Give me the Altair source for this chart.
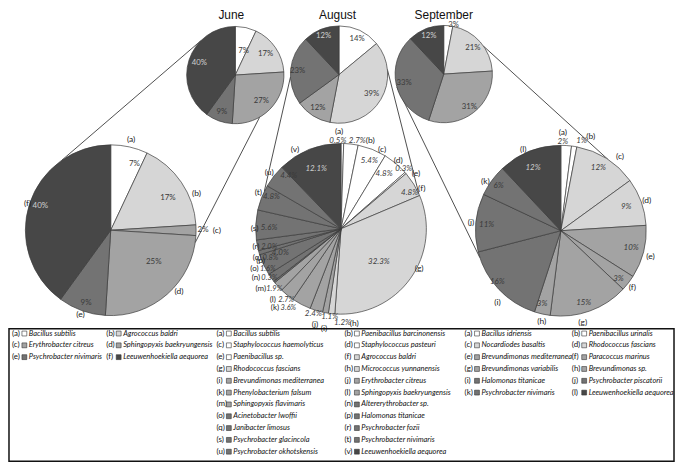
import math
import altair as alt
import pandas as pd

# ------------------------------------------------------------------ data
months = ["June", "August", "September"]

small_groups = ["white", "light", "medium", "darker", "dark"]
june_small = [7, 17, 27, 9, 40]
aug_small = [14, 39, 12, 23, 12]
sep_small = [3, 21, 31, 33, 12]

june_letters = list("abcdef")
june_values = [7, 17, 2, 25, 9, 40]
june_groups = ["white", "light", "medium", "medium", "darker", "dark"]
june_names = ["Bacillus subtilis", "Agrococcus baldri", "Erythrobacter citreus",
              "Sphingopyxis baekryungensis", "Psychrobacter nivimaris",
              "Leeuwenhoekiella aequorea"]

aug_letters = list("abcdefghijklmnopqrstuv")
aug_values = [0.5, 2.7, 5.4, 4.8, 0.3, 4.8, 32.3, 1.2, 1.1, 2.4, 3.6, 2.7, 1.9,
              0.3, 1.6, 4.0, 0.8, 2.0, 5.6, 4.8, 4.4, 12.1]
aug_groups = ["white"] * 5 + ["light"] * 3 + ["medium"] * 5 + ["darker"] * 8 + ["dark"]
aug_names = ["Bacillus subtilis", "Paenibacillus barcinonensis",
             "Staphylococcus haemolyticus", "Staphylococcus pasteuri",
             "Paenibacillus sp.", "Agrococcus baldri", "Rhodococcus fascians",
             "Micrococcus yunnanensis", "Brevundimonas mediterranea",
             "Erythrobacter citreus", "Phenylobacterium falsum",
             "Sphingopyxis baekryungensis", "Sphingopyxis flavimaris",
             "Altererythrobacter sp.", "Acinetobacter lwoffii",
             "Halomonas titanicae", "Janibacter limosus", "Psychrobacter fozii",
             "Psychrobacter glacincola", "Psychrobacter nivimaris",
             "Psychrobacter okhotskensis", "Leeuwenhoekiella aequorea"]

sep_letters = list("abcdefghijkl")
sep_values = [2, 1, 12, 9, 10, 3, 15, 3, 16, 11, 6, 12]
sep_groups = ["white"] * 2 + ["light"] * 2 + ["medium"] * 4 + ["darker"] * 3 + ["dark"]
sep_names = ["Bacillus idriensis", "Paenibacillus urinalis", "Nocardiodes basaltis",
             "Rhodococcus fascians", "Brevundimonas mediterranea",
             "Paracoccus marinus", "Brevundimonas variabilis", "Brevundimonas sp.",
             "Halomonas titanicae", "Psychrobacter piscatorii",
             "Psychrobacter nivimaris", "Leeuwenhoekiella aequorea"]

# ------------------------------------------------------------------ style / layout
FILL = {"white": "#ffffff", "light": "#d6d6d6", "medium": "#a3a3a3",
        "darker": "#737373", "dark": "#474747"}
EDGE = "#3c3c3c"
FONT = "Lato"
W, H = 672, 456
KY = 454 / 469


def px(x):
    return x - 8


def py(y):
    return 1 + (y - 1) * KY


SMALL_C = {"June": (237, 68), "August": (341.5, 67.5), "September": (447, 67)}
SMALL_R = 49
BIG_C = {"June": (111.5, 229.5), "August": (343.5, 228), "September": (565, 230)}
BIG_R = 86

SMALL_LAB = {"June": ([26, 37, 37, 40, 38], [6, 0, 0, 0, 0]),
             "August": ([40, 38, 40, 42, 42], [2, 0, 0, 0, 0]),
             "September": ([50.5, 39, 42, 41, 41], [6, 0, 0, 0, 0])}

JUNE_LET = {"a": (0, 94), "b": (11, 94), "c": (0, 107), "d": (-7, 92), "e": (0, 90), "f": (0, 88)}
JUNE_PCT = {"a": (7, 71), "b": (5, 66), "c": (0, 93), "d": (-12, 54), "e": (-1, 77), "f": (1, 75)}

AUG_LET = {"a": (-2, 98.5), "b": (11.6, 94), "c": (6, 90), "d": (0, 90), "e": (4.5, 94),
           "f": (5, 91), "g": (-9, 88), "h": (-14.3, 96), "i": (-0.8, 101),
           "j": (-1.5, 99), "p": (3.5, 87), "s": (-1.9, 87), "t": (2.4, 91),
           "u": (0, 92), "v": (-8, 93)}
AUG_PCT = {"a": (-3, 88.5), "b": (3.8, 90), "c": (1.3, 74), "d": (-1.6, 70), "e": (-2.5, 87),
           "f": (4, 78), "g": (6, 51), "h": (-7.2, 95), "i": (-3.2, 90), "j": (1.2, 90),
           "p": (2.8, 66), "s": (-1.8, 72.5), "t": (3.1, 77), "u": (7, 74.6),
           "v": (-0.7, 65)}
AUG_JOIN = {"k": (8.5, 99), "l": (1.1, 94), "m": (2.5, 95), "n": (6.2, 92),
            "o": (8.0, 89), "q": (-4.5, 82), "r": (-2.3, 80)}

SEP_LET = {"a": (-2.4, 99.5), "b": (8.5, 100), "c": (6, 96), "d": (0, 92), "e": (1.6, 94),
           "f": (0.6, 92), "g": (6.4, 95), "h": (-0.7, 93), "i": (-5.2, 96),
           "j": (0.4, 91), "k": (-2.8, 91), "l": (-3, 91)}
SEP_PCT = {"a": (-2.3, 89.5), "b": (4, 93), "c": (-1.7, 74), "d": (0, 70), "e": (-0.2, 73),
           "f": (2.4, 76), "g": (2.3, 76.5), "h": (1.8, 76), "i": (4.1, 82.5),
           "j": (-0.8, 75), "k": (-0.5, 77), "l": (-2.4, 69)}

# connector lines: (month, angle on small pie, angle on big pie)
LINES = [("June", 315, 325), ("June", 150, 98.3), ("August", 267, 296),
         ("August", 84, 65.7), ("September", 254.5, 251.6), ("September", 55, 33.7)]

LEG_COL_X = [12, 107, 218, 347, 468, 576]
LEG_ROW0, LEG_STEP = 337, 12.3
LEG_BOX = (9, 332, 679, 470)


# ------------------------------------------------------------------ helpers
def pie_frame(values, groups):
    df = pd.DataFrame({"value": values, "group": groups})
    df["idx"] = range(len(df))
    df["fill"] = df["group"].map(FILL)
    total = float(df["value"].sum())
    cum = df["value"].cumsum()
    df["mid"] = (cum - df["value"] / 2) / total * 360
    return df, total


def pie_layer(df, total, c, r):
    return alt.Chart(df).mark_arc(outerRadius=r, stroke=EDGE, strokeWidth=0.7).encode(
        theta=alt.Theta("value:Q", stack=True, scale=alt.Scale(domain=[0, total])),
        order=alt.Order("idx:Q"),
        color=alt.Color("fill:N", scale=None),
        x=alt.value(px(c[0])), y=alt.value(py(c[1])),
    )


def text_layer(rows, c, size, style="normal", dx=0, weight="normal"):
    df = pd.DataFrame(rows)
    return alt.Chart(df).mark_text(
        font=FONT, fontSize=size, fontStyle=style, fontWeight=weight,
        baseline="middle", align="center", dx=dx,
    ).encode(
        theta=alt.Theta("ang:Q", stack=False, scale=alt.Scale(domain=[0, 360])),
        radius=alt.Radius("rad:Q", scale=None),
        text="txt:N",
        color=alt.Color("tcol:N", scale=None),
        x=alt.value(px(c[0])), y=alt.value(py(c[1])),
    )


def pct_color(g):
    return "#cfcfcf" if g == "dark" else "#3a3a3a"


layers = []

# titles
title_df = pd.DataFrame({"txt": months,
                         "x": [px(233), px(340), px(447)],
                         "y": [5.5] * 3})
layers.append(alt.Chart(title_df).mark_text(
    font="Liberation Sans", fontSize=12, color="#111111", baseline="middle").encode(
    x=alt.X("x:Q", scale=None, axis=None), y=alt.Y("y:Q", scale=None, axis=None),
    text="txt:N"))

# connector lines
line_rows = []
for m, a1, a2 in LINES:
    (sx, sy), (bx, by) = SMALL_C[m], BIG_C[m]
    t1, t2 = math.radians(a1), math.radians(a2)
    line_rows.append({
        "x": px(sx) + SMALL_R * math.sin(t1), "y": py(sy) - SMALL_R * math.cos(t1),
        "x2": px(bx) + BIG_R * math.sin(t2), "y2": py(by) - BIG_R * math.cos(t2)})
layers.append(alt.Chart(pd.DataFrame(line_rows)).mark_rule(
    color="#222222", strokeWidth=0.8).encode(
    x=alt.X("x:Q", scale=None, axis=None), y=alt.Y("y:Q", scale=None, axis=None),
    x2="x2:Q", y2="y2:Q"))

# small pies
for m, vals in zip(months, [june_small, aug_small, sep_small]):
    df, total = pie_frame(vals, small_groups)
    layers.append(pie_layer(df, total, SMALL_C[m], SMALL_R))
    radii, nudges = SMALL_LAB[m]
    rows = []
    for i, row in df.iterrows():
        rows.append({"ang": row["mid"] + nudges[i], "rad": radii[i],
                     "txt": f"{vals[i]:g}%", "tcol": pct_color(small_groups[i])})
    layers.append(text_layer(rows, SMALL_C[m], 7.8))

# big pies
big_specs = [
    ("June", june_values, june_groups, june_letters, JUNE_LET, JUNE_PCT, {}, "normal",
     lambda v: f"{v:g}%"),
    ("August", aug_values, aug_groups, aug_letters, AUG_LET, AUG_PCT, AUG_JOIN, "italic",
     lambda v: f"{v:.1f}%"),
    ("September", sep_values, sep_groups, sep_letters, SEP_LET, SEP_PCT, {}, "italic",
     lambda v: f"{v:g}%"),
]
for m, vals, groups, letters, let_pos, pct_pos, join_pos, pstyle, fmt in big_specs:
    df, total = pie_frame(vals, groups)
    c = BIG_C[m]
    layers.append(pie_layer(df, total, c, BIG_R))
    let_rows, pct_rows, jl_rows, jp_rows = [], [], [], []
    for i, row in df.iterrows():
        l = letters[i]
        mid = row["mid"]
        if l in join_pos:
            n, r = join_pos[l]
            jl_rows.append({"ang": mid + n, "rad": r, "txt": f"({l})", "tcol": "#222222"})
            jp_rows.append({"ang": mid + n, "rad": r, "txt": fmt(vals[i]), "tcol": "#3a3a3a"})
        else:
            n, r = let_pos[l]
            let_rows.append({"ang": mid + n, "rad": r, "txt": f"({l})", "tcol": "#222222"})
            n, r = pct_pos[l]
            pct_rows.append({"ang": mid + n, "rad": r, "txt": fmt(vals[i]),
                             "tcol": pct_color(groups[i])})
    layers.append(text_layer(let_rows, c, 8.5))
    layers.append(text_layer(pct_rows, c, 8, style=pstyle))
    if jl_rows:
        layers.append(text_layer(jl_rows, c, 8, dx=-8))
        layers.append(text_layer(jp_rows, c, 7.5, style=pstyle, dx=5.5))

# legend
leg = []
for mi, (letters, names, groups) in enumerate([(june_letters, june_names, june_groups),
                                               (aug_letters, aug_names, aug_groups),
                                               (sep_letters, sep_names, sep_groups)]):
    for i, (l, nme, g) in enumerate(zip(letters, names, groups)):
        col = 2 * mi + (i % 2)
        x0 = LEG_COL_X[col]
        y0 = py(LEG_ROW0 + LEG_STEP * (i // 2))
        leg.append({"lx": px(x0), "sx": px(x0 + 12.5), "nx": px(x0 + 17), "y": y0,
                    "letter": f"({l})", "name": nme, "fill": FILL[g]})
leg_df = pd.DataFrame(leg)
box_df = pd.DataFrame({"x": [px(LEG_BOX[0])], "y": [py(LEG_BOX[1])],
                       "x2": [px(LEG_BOX[2])], "y2": [py(LEG_BOX[3])]})
layers.append(alt.Chart(box_df).mark_rect(
    fillOpacity=0, stroke="#111111", strokeWidth=1.5).encode(
    x=alt.X("x:Q", scale=None, axis=None), y=alt.Y("y:Q", scale=None, axis=None),
    x2="x2:Q", y2="y2:Q"))
layers.append(alt.Chart(leg_df).mark_text(
    font=FONT, fontSize=8, align="left", baseline="middle", color="#111111").encode(
    x=alt.X("lx:Q", scale=None, axis=None), y=alt.Y("y:Q", scale=None, axis=None),
    text="letter:N"))
layers.append(alt.Chart(leg_df).mark_square(
    size=24, stroke="#333333", strokeWidth=0.6, opacity=1, filled=True).encode(
    x=alt.X("sx:Q", scale=None, axis=None), y=alt.Y("y:Q", scale=None, axis=None),
    color=alt.Color("fill:N", scale=None)))
layers.append(alt.Chart(leg_df).mark_text(
    font=FONT, fontSize=7.5, fontStyle="italic", align="left",
    baseline="middle", color="#111111").encode(
    x=alt.X("nx:Q", scale=None, axis=None), y=alt.Y("y:Q", scale=None, axis=None),
    text="name:N"))

chart = alt.layer(*layers).properties(
    width=W, height=H, padding=0, autosize=alt.AutoSizeParams(type="none"),
).resolve_scale(theta="independent", radius="independent").configure_view(stroke=None)

chart.save("out.html", embed_options={"renderer": "svg", "actions": False})
